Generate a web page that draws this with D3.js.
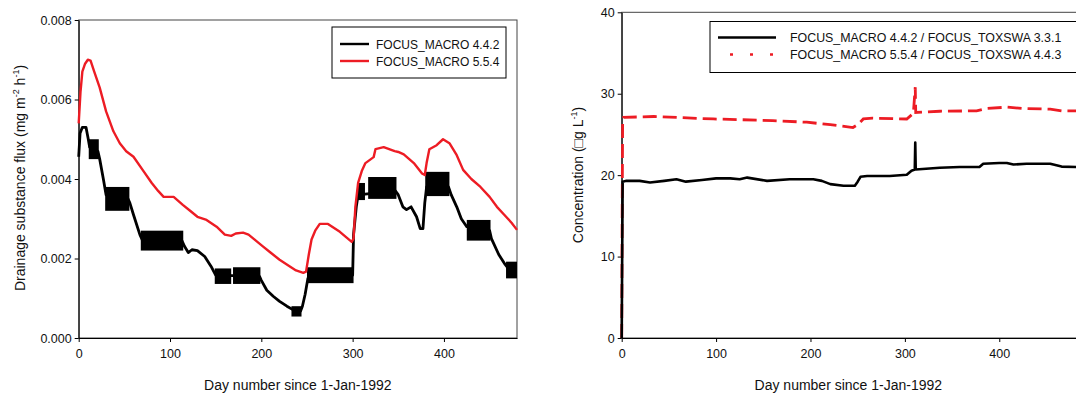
<!DOCTYPE html>
<html>
<head>
<meta charset="utf-8">
<script src="https://cdn.jsdelivr.net/npm/d3@7"></script>
<style>
  body { margin: 0; background: #fff; }
  svg { font-family: "Liberation Sans", Arial, sans-serif; }
</style>
</head>
<body>
<svg id="chart" width="1076" height="394"></svg>
<script>
// ---- data ----
const dayTicks = [0, 100, 200, 300, 400];
const fluxTicks = [0, 0.002, 0.004, 0.006, 0.008];
const concTicks = [0, 10, 20, 30, 40];

const fluxLabels = ["FOCUS_MACRO 4.4.2", "FOCUS_MACRO 5.5.4"];
const concLabels = ["FOCUS_MACRO 4.4.2 / FOCUS_TOXSWA 3.3.1", "FOCUS_MACRO 5.5.4 / FOCUS_TOXSWA 4.4.3"];

// drainage flux, MACRO 4.4.2 (smooth part) [day, mg m-2 h-1]
const fluxOld = [[0,0.00456],[1.5,0.00515],[4,0.0053],[8,0.0053],[10.5,0.0050],[12,0.0048],[21,0.0047],[23,0.0045],
  [27,0.0040],[30,0.0036],[54,0.0035],[56,0.0034],[60,0.0031],[67,0.0026],[70,0.00245],[113,0.00245],[116,0.0023],
  [120,0.00215],[124,0.00222],[130,0.0022],[138,0.00205],[145,0.0018],[150,0.00158],[198,0.00155],[200,0.00145],
  [206,0.0012],[213,0.00105],[220,0.00092],[228,0.0008],[234,0.00072],[243,0.00068],[245,0.0008],[248,0.0011],
  [251,0.0015],[253,0.00158],[300,0.00158],[301,0.0026],[304,0.0033],[306,0.0036],[347,0.0037],[350,0.0036],
  [355,0.0033],[359,0.00323],[364,0.0033],[370,0.00305],[374,0.00275],[377,0.00275],[379,0.0034],[381,0.0038],
  [405,0.0038],[408,0.0036],[414,0.0033],[419,0.0030],[425,0.0028],[450,0.0027],[452,0.0025],[460,0.0021],
  [467,0.00185],[472,0.0017],[480,0.0017]];

// hourly oscillation blocks of MACRO 4.4.2 [start day, end day, low, high]
const fluxOldBands = [[11,22,0.0045,0.0050],[29,55.5,0.0032,0.0038],[68,114.5,0.0022,0.0027],
  [149,167,0.00136,0.00175],[169,199,0.00136,0.00178],[233,244,0.00054,0.0008],[250,301,0.00138,0.00178],
  [305,313.5,0.00347,0.0039],[317,348,0.0035,0.00405],[379.5,406,0.00357,0.00418],[425,451,0.00245,0.00297],
  [468,480,0.0015,0.00192]];

// drainage flux, MACRO 5.5.4
const fluxNew = [[0,0.0054],[2,0.0062],[4,0.0067],[7,0.0069],[10,0.0070],[13,0.00698],[17,0.0067],[23,0.0063],
  [30,0.0057],[38,0.0052],[45,0.0049],[52,0.0047],[60,0.00456],[70,0.00423],[80,0.0039],[87,0.0037],[93,0.00355],
  [104,0.00355],[114,0.00335],[122,0.0032],[130,0.00305],[140,0.00297],[151,0.0028],[160,0.0026],[167,0.00257],
  [172,0.00263],[180,0.00265],[186,0.0026],[194,0.00245],[202,0.0023],[210,0.00215],[220,0.00197],[230,0.00182],
  [238,0.0017],[246,0.00164],[249,0.00167],[252,0.0021],[255,0.00248],[259,0.0027],[264,0.00287],[273,0.00287],
  [286,0.00267],[299,0.00242],[301,0.0025],[303,0.0033],[306,0.0039],[310,0.0042],[314,0.0044],[320,0.0045],
  [323,0.00455],[325,0.00475],[334,0.0048],[346,0.0047],[350,0.00468],[356,0.00462],[362,0.0045],[367,0.0044],
  [376,0.00414],[379,0.0041],[381,0.0044],[384,0.00475],[392,0.00485],[399,0.005],[406,0.0049],[414,0.0046],
  [421,0.00423],[430,0.004],[440,0.0038],[450,0.00355],[458,0.0033],[466,0.0031],[474,0.0029],[480,0.00272]];

// concentration, MACRO 4.4.2 / TOXSWA 3.3.1
const concOld = [[0,0],[0.5,10],[1,19.2],[5,19.3],[19,19.3],[30,19.1],[45,19.3],[58,19.5],[68,19.2],[85,19.4],
  [100,19.6],[115,19.6],[125,19.5],[133,19.7],[154,19.3],[178,19.5],[203,19.5],[212,19.3],[221,18.9],[235,18.7],
  [247,18.7],[250,19.2],[253,19.8],[260,19.9],[284,19.9],[302,20.05],[307,20.55],[310.5,20.7],[311,24.0],
  [311.5,20.7],[337,20.9],[358,21.0],[379,21.0],[383,21.4],[400,21.5],[408,21.5],[415,21.3],[429,21.4],
  [454,21.4],[466,21.05],[482,21.0]];

// concentration, MACRO 5.5.4 / TOXSWA 4.4.3
const concNew = [[0,0],[0.5,15],[1,26.8],[2,27.1],[34,27.2],[97,26.9],[160,26.7],[196,26.5],[221,26.2],
  [245,25.85],[250,26.2],[256,26.9],[266,27.0],[302,26.9],[309,27.6],[311,30.8],[311.5,27.7],[337,27.85],
  [376,27.9],[387,28.2],[408,28.35],[424,28.2],[454,28.1],[466,27.9],[482,27.9]];

const red = "#ed1c24";
const svg = d3.select("#chart");

function panel(opt) {
  const x = d3.scaleLinear().domain(opt.xDomain).range([opt.left, opt.right]);
  const y = d3.scaleLinear().domain(opt.yDomain).range([opt.bottom, opt.top]);
  const g = svg.append("g");

  // frame
  g.append("rect")
    .attr("x", opt.left).attr("y", opt.top)
    .attr("width", opt.right - opt.left).attr("height", opt.bottom - opt.top)
    .attr("fill", "none").attr("stroke", "#444").attr("stroke-width", 1);

  const xAxis = g.append("g").attr("transform", `translate(0,${opt.bottom})`)
    .call(d3.axisBottom(x).tickValues(dayTicks).tickSize(4).tickSizeOuter(0).tickPadding(7));
  const yAxis = g.append("g").attr("transform", `translate(${opt.left},0)`)
    .call(d3.axisLeft(y).tickValues(opt.yTicks).tickFormat(opt.fmt).tickSize(4).tickSizeOuter(0).tickPadding(3));
  [xAxis, yAxis].forEach(a => {
    a.selectAll("text").attr("font-size", 12.5).attr("fill", "#111")
      .attr("font-family", "'Liberation Sans', Arial, sans-serif");
    a.select(".domain").attr("stroke", "#000");
  });

  g.append("text")
    .attr("x", (opt.left + opt.titleRight) / 2).attr("y", 390)
    .attr("text-anchor", "middle").attr("font-size", 14).attr("fill", "#111")
    .text("Day number since 1-Jan-1992");

  return { g, x, y };
}

// ---------- left panel: drainage flux ----------
const L = panel({ left: 78.7, right: 517, top: 20, bottom: 338, titleRight: 517,
  xDomain: [0, 480], yDomain: [0, 0.008], yTicks: fluxTicks, fmt: d3.format(".3f") });

const lineL = d3.line().x(d => L.x(d[0])).y(d => L.y(d[1]));

L.g.append("g").selectAll("rect").data(fluxOldBands).join("rect")
  .attr("x", d => L.x(d[0])).attr("width", d => L.x(d[1]) - L.x(d[0]))
  .attr("y", d => L.y(d[3])).attr("height", d => L.y(d[2]) - L.y(d[3]))
  .attr("fill", "#000");

L.g.append("path").datum(fluxOld).attr("d", lineL)
  .attr("fill", "none").attr("stroke", "#000").attr("stroke-width", 2.8).attr("stroke-linejoin", "round");
L.g.append("path").datum(fluxNew).attr("d", lineL)
  .attr("fill", "none").attr("stroke", red).attr("stroke-width", 2.4).attr("stroke-linejoin", "round");

const legL = L.g.append("g");
legL.append("rect").attr("x", 332).attr("y", 27).attr("width", 174).attr("height", 51)
  .attr("fill", "#fff").attr("stroke", "#000");
fluxLabels.forEach((t, i) => {
  const yy = 44 + i * 17;
  legL.append("line").attr("x1", 340).attr("x2", 369).attr("y1", yy).attr("y2", yy)
    .attr("stroke", i ? red : "#000").attr("stroke-width", 2.4);
  legL.append("text").attr("x", 376).attr("y", yy + 4.5).attr("font-size", 12).attr("fill", "#111").text(t);
});

const tl = L.g.append("text").attr("transform", "translate(25,178) rotate(-90)")
  .attr("text-anchor", "middle").attr("font-size", 14).attr("fill", "#111");
tl.append("tspan").text("Drainage substance flux (mg m");
tl.append("tspan").attr("dy", -6).attr("font-size", 9).text("-2");
tl.append("tspan").attr("dy", 6).text(" h");
tl.append("tspan").attr("dy", -6).attr("font-size", 9).text("-1");
tl.append("tspan").attr("dy", 6).text(")");

// ---------- right panel: concentration ----------
const R = panel({ left: 621.7, right: 1079.5, top: 12.3, bottom: 338, titleRight: 1075,
  xDomain: [0, 485], yDomain: [0, 40], yTicks: concTicks, fmt: d3.format("d") });

const lineR = d3.line().x(d => R.x(d[0])).y(d => R.y(d[1]));

R.g.append("path").datum(concNew).attr("d", lineR)
  .attr("fill", "none").attr("stroke", red).attr("stroke-width", 2.8)
  .attr("stroke-dasharray", "14,6");
R.g.append("path").datum(concOld).attr("d", lineR)
  .attr("fill", "none").attr("stroke", "#000").attr("stroke-width", 2.6).attr("stroke-linejoin", "round");

const legR = R.g.append("g");
legR.append("rect").attr("x", 710).attr("y", 21.5).attr("width", 380).attr("height", 51)
  .attr("fill", "#fff").attr("stroke", "#000");
concLabels.forEach((t, i) => {
  const yy = 37.5 + i * 17;
  legR.append("line").attr("x1", 718).attr("x2", 776).attr("y1", yy).attr("y2", yy)
    .attr("stroke", i ? red : "#000").attr("stroke-width", 2.5)
    .attr("stroke-dasharray", i ? "3,17" : null).attr("stroke-dashoffset", i ? 8 : null);
  legR.append("text").attr("x", 790).attr("y", yy + 4.5).attr("font-size", 12.4).attr("fill", "#111").text(t);
});

const tr = R.g.append("text").attr("transform", "translate(583,175) rotate(-90)")
  .attr("text-anchor", "middle").attr("font-size", 14).attr("fill", "#111");
tr.append("tspan").text("Concentration (\u25A1g L");
tr.append("tspan").attr("dy", -6).attr("font-size", 9).text("-1");
tr.append("tspan").attr("dy", 6).text(")");
</script>
</body>
</html>
